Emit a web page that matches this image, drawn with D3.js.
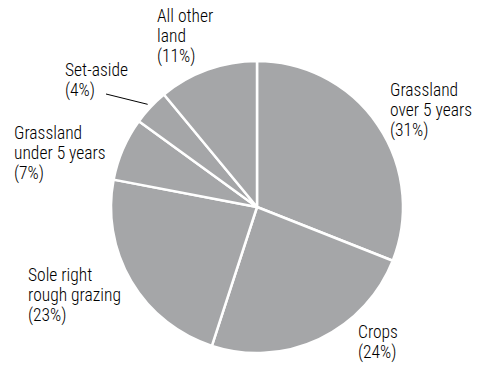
<!DOCTYPE html>
<html><head><meta charset="utf-8">
<script src="https://cdn.jsdelivr.net/npm/d3@7"></script>
<style>body{margin:0;background:#fff;} text{font-family:"Roboto Condensed","Liberation Sans Narrow",sans-serif;font-size:17.5px;font-weight:300;fill:#000;}</style>
</head><body>
<svg id="c" width="486" height="365"></svg>
<script>
const categories = ["Grassland over 5 years","Crops","Sole right rough grazing","Grassland under 5 years","Set-aside","All other land"];
const values = [31,24,23,7,4,11];
const labelLines = [
  ["Grassland","over 5 years","(31%)"],
  ["Crops","(24%)"],
  ["Sole right","rough grazing","(23%)"],
  ["Grassland","under 5 years","(7%)"],
  ["Set-aside","(4%)"],
  ["All other","land","(11%)"]
];
const labelPos = [[390,96],[358,338],[28,281],[14,139],[65,76],[157,22]];

const svg = d3.select("#c");
const cx = 257, cy = 207, r = 146;
const g = svg.append("g").attr("transform",`translate(${cx},${cy})`);
const pie = d3.pie().sort(null).value(d=>d)(values);
const arc = d3.arc().innerRadius(0).outerRadius(r);
g.selectAll("path").data(pie).join("path")
  .attr("d",arc).attr("fill","#a5a6a8").attr("stroke","#fff").attr("stroke-width",2.5).attr("stroke-linejoin","round");

labelLines.forEach((lines,i)=>{
  const t = svg.append("text").attr("x",labelPos[i][0]).attr("y",labelPos[i][1]);
  lines.forEach((l,j)=>t.append("tspan").attr("x",labelPos[i][0]).attr("dy",j?20:0).text(l));
});
// leader for Set-aside
const sa = pie[4];
const mid = (sa.startAngle+sa.endAngle)/2;
const ex = cx + Math.sin(mid)*(r+4), ey = cy - Math.cos(mid)*(r+4);
svg.append("line").attr("x1",106).attr("y1",94).attr("x2",ex).attr("y2",ey).attr("stroke","#000").attr("stroke-width",1);
</script>
</body></html>
